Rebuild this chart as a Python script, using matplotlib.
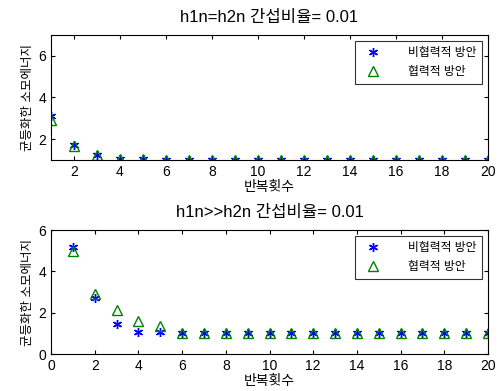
import matplotlib.pyplot as plt
import numpy as np

plt.rcParams['font.family'] = ['Liberation Sans', 'Noto Sans CJK KR', 'DejaVu Sans']

# data
iters = np.arange(1, 21)

top_nonco = [3.1, 1.7, 1.25, 1.05, 1.03, 1.02, 1.02, 1.02, 1.02, 1.02,
             1.02, 1.02, 1.02, 1.02, 1.02, 1.02, 1.02, 1.02, 1.02, 1.02]
top_co = [2.9, 1.65, 1.22, 1.05, 1.03, 1.02, 1.02, 1.02, 1.02, 1.02,
          1.02, 1.02, 1.02, 1.02, 1.02, 1.02, 1.02, 1.02, 1.02, 1.02]

bot_nonco = [5.2, 2.7, 1.45, 1.05, 1.05, 1.0, 1.0, 1.0, 1.0, 1.0,
             1.0, 1.0, 1.0, 1.0, 1.0, 1.0, 1.0, 1.0, 1.0, 1.0]
bot_co = [5.0, 2.9, 2.15, 1.6, 1.35, 1.0, 1.0, 1.0, 1.0, 1.0,
          1.0, 1.0, 1.0, 1.0, 1.0, 1.0, 1.0, 1.0, 1.0, 1.0]

titles = ['h1n=h2n 간섭비율= 0.01', 'h1n>>h2n 간섭비율= 0.01']
labels = ['비협력적 방안', '협력적 방안']
xlabel = '반복횟수'
ylabel = '균등화한 소모에너지'

fig = plt.figure(figsize=(5, 3.91), dpi=100)
ax1 = fig.add_axes([51/500, 1 - 160/391, 437/500, 125/391])
ax2 = fig.add_axes([51/500, 1 - 354/391, 437/500, 124/391])

asterisk = (6, 2, 0)
green = (0, 0.5, 0)

def style(ax):
    ax.tick_params(direction='in', top=True, right=True, labelsize=10, length=3)
    for sp in ax.spines.values():
        sp.set_linewidth(0.8)

for ax, nonco, co, title in [(ax1, top_nonco, top_co, titles[0]),
                             (ax2, bot_nonco, bot_co, titles[1])]:
    ax.plot(iters, nonco, linestyle='none', marker=asterisk, color='blue',
            markersize=6.5, markeredgewidth=1.0, label=labels[0])
    ax.plot(iters, co, linestyle='none', marker='^', markerfacecolor='none',
            markeredgecolor=green, markersize=6.5, markeredgewidth=1.0, label=labels[1])
    ax.set_title(title, fontsize=12, pad=9)
    ax.set_xlabel(xlabel, fontsize=10, labelpad=1)
    ax.set_ylabel(ylabel, fontsize=9, labelpad=3)
    leg = ax.legend(loc='upper right', fontsize=8.5, frameon=True, fancybox=False,
                    edgecolor='black', borderaxespad=0.5, handletextpad=1.8,
                    handlelength=2.2, borderpad=0.5, labelspacing=0.6)
    leg.get_frame().set_linewidth(0.8)
    style(ax)

ax1.set_xlim(1, 20)
ax1.set_ylim(1, 7)
ax1.set_xticks(np.arange(2, 21, 2))
ax1.set_yticks([2, 4, 6])

ax2.set_xlim(0, 20)
ax2.set_ylim(0, 6)
ax2.set_xticks(np.arange(0, 21, 2))
ax2.set_yticks([0, 2, 4, 6])

fig.savefig('out.png', dpi=100)
